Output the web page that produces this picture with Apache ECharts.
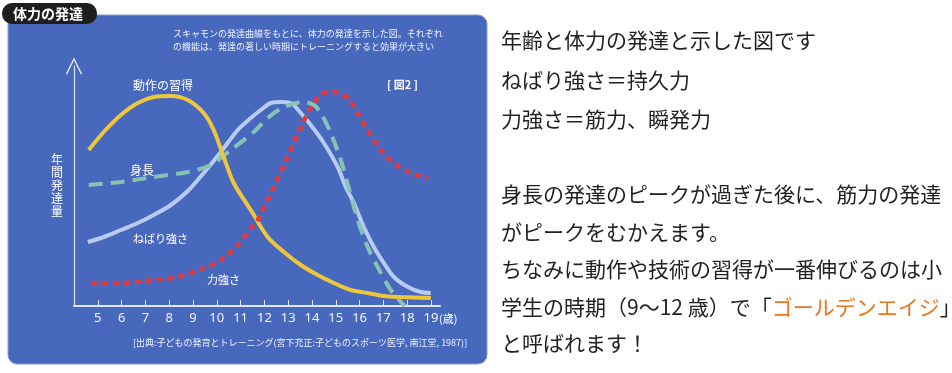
<!DOCTYPE html>
<html><head><meta charset="utf-8">
<script src="https://cdn.jsdelivr.net/npm/echarts@6/dist/echarts.min.js"></script>
<style>html,body{margin:0;padding:0;background:#fff}#c{width:952px;height:373px}</style>
</head><body><div id="c"></div>
<script>
// ---- data (ages in years, relative annual development) ----
const yearTicks = [5,6,7,8,9,10,11,12,13,14,15,16,17,18,19];

const motorYears  = [4.62,5.25,5.97,6.68,7.35,8.07,8.78,9.45,9.87,10.29,10.71,11.43,12.14,12.82,13.53,14.24,14.92,15.63,16.34,17.02,17.73,18.99];
const motorValues = [156,174,191,203,209,210,206,193,176,149,123,96,69,54,41,31,23,16,13,10,9,8];

const heightYears  = [4.62,5.97,7.35,8.78,9.75,10.59,11.55,12.14,12.82,13.66,14.08,14.37,14.79,15.21,15.5,15.92,16.34,16.76,17.31,17.9];
const heightValues = [121,124,129,134,141,156,174,188,199,204,201,193,173,146,122,86,59,39,16,0];

const staminaYears  = [4.58,5.25,5.97,6.68,7.35,8.07,8.78,9.45,10.17,10.88,11.43,11.85,12.27,12.69,13.11,13.53,13.95,14.5,15.08,15.42,15.76,16.18,16.6,17.02,17.44,18.03,18.57,18.99];
const staminaValues = [64,69,76,83,91,101,115,133,154,176,188,196,203,204,203,193,181,163,139,119,103,79,59,43,29,19,14,13];

const strengthYears  = [4.71,5.97,7.35,8.36,9.45,10.17,10.88,11.43,11.72,12.39,12.98,13.53,14.08,14.5,14.92,15.5,15.92,16.34,16.89,17.44,18.15,18.87];
const strengthValues = [23,23,26,29,38,46,61,78,86,119,149,179,203,213,214,208,193,176,156,143,133,128];

const zip = (xs, ys) => xs.map((x, i) => [x, ys[i]]);

const white = '#ffffff';
const chart = echarts.init(document.getElementById('c'), null, {renderer: 'canvas'});
const chev = 'path://M0,10 L5,0 L10,10 L9.2,10.4 L5,1.8 L0.8,10.4 Z';

chart.setOption({
  backgroundColor: '#ffffff',
  animation: false,
  textStyle: {fontFamily: '"Noto Sans CJK JP", "Noto Sans", sans-serif'},
  graphic: [
    {type: 'rect', z: -10, shape: {x: 8, y: 15, width: 479, height: 349, r: 9},
     style: {fill: '#4868bd', stroke: '#8a9cc8', lineWidth: 1}},
    {type: 'rect', z: -9, shape: {x: 2, y: 3, width: 95, height: 21, r: 10},
     style: {fill: '#1e1e1e'}},
    {type: 'text', x: 13, y: 14, style: {text: '体力の発達', fill: white, font: 'bold 14px "Noto Sans CJK JP"', textVerticalAlign: 'middle'}},
    {type: 'text', x: 173, y: 27, style: {text: 'スキャモンの発達曲線をもとに、体力の発達を示した図。それぞれ\nの機能は、発達の著しい時期にトレーニングすると効果が大きい', fill: '#eef2ff', font: '9px "Noto Sans CJK JP"', lineHeight: 13}},
    {type: 'text', x: 133, y: 85, style: {text: '動作の習得', fill: white, font: '12px "Noto Sans CJK JP"', textVerticalAlign: 'middle'}},
    {type: 'text', x: 387, y: 85, style: {text: '[ 図2 ]', fill: white, font: 'bold 11px "Noto Sans CJK JP"', textVerticalAlign: 'middle'}},
    {type: 'text', x: 130, y: 170, style: {text: '身長', fill: white, font: '12px "Noto Sans CJK JP"', textVerticalAlign: 'middle'}},
    {type: 'text', x: 133, y: 239, style: {text: 'ねばり強さ', fill: white, font: '11px "Noto Sans CJK JP"', textVerticalAlign: 'middle'}},
    {type: 'text', x: 207, y: 280, style: {text: '力強さ', fill: white, font: '11px "Noto Sans CJK JP"', textVerticalAlign: 'middle'}},
    {type: 'text', x: 57, y: 185, style: {text: '年\n間\n発\n達\n量', fill: white, font: '12px "Noto Sans CJK JP"', lineHeight: 13, textAlign: 'center', textVerticalAlign: 'middle'}},
    {type: 'text', x: 439, y: 319, style: {text: '(歳)', fill: white, font: '11px "Noto Sans CJK JP"', textVerticalAlign: 'middle'}},
    {type: 'text', x: 133, y: 343, style: {text: '[出典:子どもの発育とトレーニング(宮下充正:子どものスポーツ医学, 南江堂, 1987)]', fill: '#eef2ff', font: '9px "Noto Sans CJK JP"', textVerticalAlign: 'middle'}},
    // right side text
    {type: 'text', x: 501, y: 40, style: {text: '年齢と体力の発達と示した図です', fill: '#222', font: '21px "Noto Sans CJK JP"', textVerticalAlign: 'middle'}},
    {type: 'text', x: 501, y: 80, style: {text: 'ねばり強さ＝持久力', fill: '#222', font: '21px "Noto Sans CJK JP"', textVerticalAlign: 'middle'}},
    {type: 'text', x: 501, y: 119, style: {text: '力強さ＝筋力、瞬発力', fill: '#222', font: '21px "Noto Sans CJK JP"', textVerticalAlign: 'middle'}},
    {type: 'text', x: 501, y: 194, style: {text: '身長の発達のピークが過ぎた後に、筋力の発達', fill: '#222', font: '21px "Noto Sans CJK JP"', textVerticalAlign: 'middle'}},
    {type: 'text', x: 501, y: 232, style: {text: 'がピークをむかえます。', fill: '#222', font: '21px "Noto Sans CJK JP"', textVerticalAlign: 'middle'}},
    {type: 'text', x: 501, y: 269, style: {text: 'ちなみに動作や技術の習得が一番伸びるのは小', fill: '#222', font: '21px "Noto Sans CJK JP"', textVerticalAlign: 'middle'}},
    {type: 'text', x: 501, y: 307, style: {
      text: '{a|学生の時期（9〜12 歳）で「}{o|ゴールデンエイジ}{a|」}',
      textVerticalAlign: 'middle',
      rich: {a: {fill: '#222', font: '21px "Noto Sans CJK JP"'}, o: {fill: '#e8761e', font: '21px "Noto Sans CJK JP"'}}}},
    {type: 'text', x: 501, y: 343, style: {text: 'と呼ばれます！', fill: '#222', font: '21px "Noto Sans CJK JP"', textVerticalAlign: 'middle'}}
  ],
  grid: {left: 74, right: 512, top: 66, bottom: 67, containLabel: false},
  xAxis: {
    type: 'value', min: 4, max: 19.38, interval: 1,
    axisLine: {lineStyle: {color: '#dfe6f7', width: 2}},
    axisTick: {show: true, inside: true, length: 6, customValues: yearTicks, lineStyle: {color: '#dfe6f7', width: 1}},
    axisLabel: {customValues: yearTicks, color: '#f0f4ff', fontSize: 13, margin: 6, fontFamily: '"Noto Sans", sans-serif'},
    splitLine: {show: false}
  },
  yAxis: {
    type: 'value', min: 0, max: 240,
    axisLine: {show: true, symbol: ['none', chev], symbolSize: [22, 17], symbolOffset: [0, 0], lineStyle: {color: '#dfe6f7', width: 1.2}},
    axisTick: {show: false}, axisLabel: {show: false}, splitLine: {show: false}
  },
  series: [
    {name: 'ねばり強さ', type: 'line', smooth: 0.3, showSymbol: false, data: zip(staminaYears, staminaValues),
     lineStyle: {color: '#b7cbf3', width: 4}},
    {name: '身長', type: 'line', smooth: 0.3, showSymbol: false, data: zip(heightYears, heightValues),
     lineStyle: {color: '#86c3b5', width: 4, type: [14, 8]}},
    {name: '動作の習得', type: 'line', smooth: 0.3, showSymbol: false, data: zip(motorYears, motorValues),
     lineStyle: {color: '#edc63a', width: 4}},
    {name: '力強さ', type: 'line', smooth: 0.3, showSymbol: false, data: zip(strengthYears, strengthValues),
     lineStyle: {color: '#e03a3e', width: 4.5, type: [6, 5]}}
  ]
});
</script>
</body></html>
